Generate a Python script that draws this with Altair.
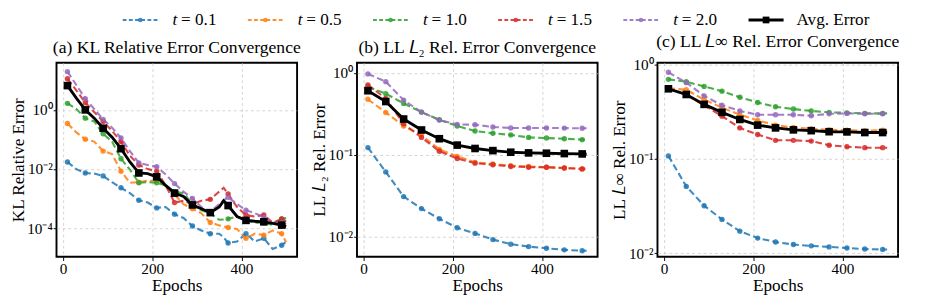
import altair as alt
import pandas as pd

SERIES = ["t = 0.1", "t = 0.5", "t = 1.0", "t = 1.5", "t = 2.0", "Avg. Error"]
COLORS = ["#1f77b4", "#ff7f0e", "#2ca02c", "#d62728", "#9467bd", "#000000"]
LEGEND_REST = ["= 0.1", "= 0.5", "= 1.0", "= 1.5", "= 2.0", "Avg. Error"]
MARKER_EPOCHS = [10, 50, 90, 130, 170, 210, 250, 290, 330, 370, 410, 450, 490]

# ---------- (a) KL relative error ----------
EPOCHS_KL = [10, 30, 50, 70, 90, 110, 130, 150, 170, 190, 210, 230, 250, 270,
             290, 310, 330, 350, 360, 370, 390, 410, 430, 450, 470, 490, 500]
KL_T01 = [0.0174, 0.01, 0.00741, 0.00708, 0.00589, 0.00363, 0.00234, 0.00155, 0.000891,
          0.000741, 0.00049, 0.000525, 0.000302, 0.000224, 0.00012, 8.5e-5, 6.6e-5, 6.6e-5,
          5.0e-5, 3.2e-5, 3.6e-5, 6.6e-5, 3.6e-5, 4.6e-5, 2.0e-5, 2.7e-5, 3.5e-5]
KL_T05 = [0.347, 0.174, 0.102, 0.0851, 0.0407, 0.0324, 0.00851, 0.00347, 0.00363,
          0.00407, 0.00407, 0.00282, 0.00138, 0.000661, 0.000457, 0.000324, 0.000158, 0.000126,
          0.000117, 0.000107, 9.5e-5, 4.6e-5, 6.6e-5, 5.9e-5, 8.5e-5, 6.6e-5, 3.4e-5]
KL_T10 = [1.66, 1.07, 0.525, 0.407, 0.155, 0.0851, 0.0224, 0.00955, 0.00347,
          0.00363, 0.00347, 0.00282, 0.00174, 0.00155, 0.000661, 0.000407, 0.000324, 0.000195,
          0.0002, 0.000209, 0.000251, 0.000186, 0.000155, 0.000155, 0.000129, 0.000209, 0.000224]
KL_T15 = [11.2, 4.57, 1.74, 0.851, 0.407, 0.195, 0.0851, 0.0282, 0.0138,
          0.01, 0.00851, 0.00282, 0.000741, 0.000851, 0.000661, 0.000851, 0.000955, 0.00174,
          0.00234, 0.00145, 0.000525, 0.000282, 0.000251, 0.000282, 0.000155, 0.000209, 0.000174]
KL_T20 = [19.5, 6.92, 2.4, 1.07, 0.479, 0.251, 0.112, 0.0407, 0.0162,
          0.0138, 0.012, 0.00661, 0.00324, 0.00174, 0.00102, 0.000525, 0.000363, 0.000661,
          0.000891, 0.00112, 0.000661, 0.000407, 0.000324, 0.00024, 0.000155, 0.000155, 0.000138]
KL_AVG = [6.61, 2.51, 1.0, 0.525, 0.24, 0.12, 0.049, 0.0174, 0.00741,
          0.00708, 0.0055, 0.00282, 0.00155, 0.0012, 0.000617, 0.000457, 0.000339, 0.000525,
          0.000851, 0.000589, 0.000251, 0.000186, 0.000174, 0.000166, 0.000148, 0.000129, 0.000115]

# ---------- (b) LL L2 and (c) LL Linf relative error ----------
EPOCHS_LL = [10, 50, 90, 130, 170, 210, 250, 290, 330, 370, 410, 450, 490, 500]
L2_T01 = [0.123, 0.0621, 0.031, 0.0221, 0.0166, 0.0129, 0.011, 0.00923, 0.00813, 0.00759, 0.00724, 0.00692, 0.00676, 0.00676]
L2_T05 = [0.479, 0.331, 0.226, 0.174, 0.117, 0.0962, 0.0813, 0.0776, 0.0741, 0.0724, 0.0708, 0.0692, 0.0676, 0.0676]
L2_T10 = [0.681, 0.562, 0.427, 0.334, 0.269, 0.226, 0.196, 0.184, 0.176, 0.164, 0.161, 0.158, 0.154, 0.154]
L2_T15 = [0.718, 0.49, 0.24, 0.164, 0.111, 0.0904, 0.0794, 0.0759, 0.0724, 0.0708, 0.0708, 0.0692, 0.0676, 0.0676]
L2_T20 = [0.98, 0.787, 0.468, 0.334, 0.267, 0.236, 0.234, 0.22, 0.214, 0.214, 0.214, 0.213, 0.212, 0.212]
L2_AVG = [0.61, 0.45, 0.275, 0.202, 0.158, 0.132, 0.12, 0.113, 0.108, 0.106, 0.105, 0.104, 0.103, 0.102]

LI_T01 = [0.108, 0.0513, 0.032, 0.0229, 0.0172, 0.0145, 0.0132, 0.0124, 0.012, 0.0117, 0.0114, 0.0111, 0.011, 0.011]
LI_T05 = [0.562, 0.543, 0.427, 0.351, 0.295, 0.257, 0.229, 0.216, 0.209, 0.204, 0.202, 0.2, 0.202, 0.202]
LI_T10 = [0.7, 0.661, 0.589, 0.525, 0.452, 0.398, 0.359, 0.339, 0.324, 0.313, 0.309, 0.305, 0.305, 0.305]
LI_T15 = [0.562, 0.479, 0.372, 0.285, 0.214, 0.182, 0.158, 0.158, 0.155, 0.14, 0.135, 0.132, 0.132, 0.132]
LI_T20 = [0.832, 0.646, 0.468, 0.372, 0.324, 0.295, 0.295, 0.295, 0.288, 0.302, 0.305, 0.302, 0.302, 0.302]
LI_AVG = [0.556, 0.484, 0.38, 0.313, 0.263, 0.229, 0.214, 0.204, 0.2, 0.195, 0.194, 0.191, 0.191, 0.191]

FONT = "Liberation Serif"
EXP_LABEL = ("'10' + (round(log(datum.value)/LN10) < 0 ? '\u207b' : '') + "
             "replace(replace(replace(replace(replace(toString(abs(round(log(datum.value)/LN10))),"
             "'0','\u2070'),'1','\u00b9'),'2','\u00b2'),'3','\u00b3'),'4','\u2074')")
PLOT_H = 204


def long_df(epochs, cols):
    rows = []
    for s, vals in zip(SERIES, cols):
        for e, v in zip(epochs, vals):
            rows.append({"epoch": e, "value": v, "series": s, "marker": e in MARKER_EPOCHS})
    return pd.DataFrame(rows)


def panel(epochs, cols, title, ytitle, ydomain, yticks, width):
    df = long_df(epochs, cols)
    base = alt.Chart(df)
    x = alt.X("epoch:Q",
              scale=alt.Scale(domain=[-14.5, 524.5], nice=False, zero=False),
              axis=alt.Axis(values=[0, 200, 400], title="Epochs", format="d",
                            titleFontWeight="normal", labelPadding=1, titlePadding=0))
    y = alt.Y("value:Q",
              scale=alt.Scale(type="log", domain=ydomain, nice=False),
              axis=alt.Axis(values=yticks, labelExpr=EXP_LABEL, title=ytitle,
                            titleFontWeight="normal", tickSize=3.5, labelPadding=1,
                            titlePadding=0))
    color = alt.Color("series:N", scale=alt.Scale(domain=SERIES, range=COLORS), legend=None)
    is_t = alt.datum.series != "Avg. Error"
    is_avg = alt.datum.series == "Avg. Error"
    t_lines = base.transform_filter(is_t).mark_line(
        strokeDash=[7, 3.5], strokeWidth=2.2, opacity=0.85).encode(x=x, y=y, color=color)
    t_pts = base.transform_filter(is_t).transform_filter(alt.datum.marker).mark_circle(
        size=32, opacity=0.85).encode(x=x, y=y, color=color)
    a_line = base.transform_filter(is_avg).mark_line(
        strokeWidth=3, color="black").encode(x=x, y=y)
    a_pts = base.transform_filter(is_avg).transform_filter(alt.datum.marker).mark_square(
        size=64, color="black", opacity=1).encode(x=x, y=y)
    return alt.layer(t_lines, t_pts, a_line, a_pts).properties(
        width=width, height=PLOT_H,
        title=alt.TitleParams(title, fontWeight="normal"))


pa = panel(EPOCHS_KL, [KL_T01, KL_T05, KL_T10, KL_T15, KL_T20, KL_AVG],
           "(a) KL Relative Error Convergence", "KL Relative Error",
           [1.1e-5, 39], [1e-4, 1e-2, 1], 253)
pb = panel(EPOCHS_LL, [L2_T01, L2_T05, L2_T10, L2_T15, L2_T20, L2_AVG],
           "(b) LL \U0001D43F\u2082 Rel. Error Convergence", "LL \U0001D43F\u2082 Rel. Error",
           [0.0057, 1.34], [1e-2, 1e-1, 1], 253)
pc = panel(EPOCHS_LL, [LI_T01, LI_T05, LI_T10, LI_T15, LI_T20, LI_AVG],
           "(c) LL \U0001D43F\u221e Rel. Error Convergence", "LL \U0001D43F\u221e Rel. Error",
           [0.0092, 1.05], [1e-2, 1e-1, 1], 253)

# ---------- legend row ----------
leg = pd.DataFrame({"slot": list(range(6)), "series": SERIES, "rest": LEGEND_REST,
                    "is_t": [True] * 5 + [False]})
lx = alt.Scale(domain=[-0.669, 6.366], nice=False, zero=False)
lcolor = alt.Color("series:N", scale=alt.Scale(domain=SERIES, range=COLORS), legend=None)
lbase = alt.Chart(leg).transform_calculate(x0="datum.slot - 0.14", x1="datum.slot + 0.14")
l_t_rule = lbase.transform_filter(alt.datum.is_t).mark_rule(strokeDash=[4, 2.5], strokeWidth=2, opacity=0.85).encode(
    x=alt.X("x0:Q", scale=lx, axis=None), x2="x1:Q", y=alt.value(9), color=lcolor)
l_t_pt = lbase.transform_filter(alt.datum.is_t).mark_circle(size=22, opacity=0.85).encode(
    x=alt.X("slot:Q", scale=lx, axis=None), y=alt.value(9), color=lcolor)
l_a_rule = lbase.transform_filter("!datum.is_t").mark_rule(strokeWidth=3, color="black").encode(
    x=alt.X("x0:Q", scale=lx, axis=None), x2="x1:Q", y=alt.value(9))
l_a_pt = lbase.transform_filter("!datum.is_t").mark_square(size=50, color="black", opacity=1).encode(
    x=alt.X("slot:Q", scale=lx, axis=None), y=alt.value(9))
l_t_it = lbase.transform_filter(alt.datum.is_t).mark_text(
    align="left", baseline="middle", dx=34, fontStyle="italic", fontSize=18, font=FONT).encode(
    x=alt.X("slot:Q", scale=lx, axis=None), y=alt.value(9), text=alt.value("t"))
l_t_txt = lbase.transform_filter(alt.datum.is_t).mark_text(
    align="left", baseline="middle", dx=43, fontSize=18, font=FONT).encode(
    x=alt.X("slot:Q", scale=lx, axis=None), y=alt.value(9), text="rest:N")
l_a_txt = lbase.transform_filter("!datum.is_t").mark_text(
    align="left", baseline="middle", dx=32, fontSize=18, font=FONT).encode(
    x=alt.X("slot:Q", scale=lx, axis=None), y=alt.value(9), text="rest:N")
legend_row = alt.layer(l_t_rule, l_t_pt, l_a_rule, l_a_pt, l_t_it, l_t_txt, l_a_txt).properties(
    width=926, height=18, view=alt.ViewBackground(stroke="transparent"))

panels = alt.hconcat(pa, pb, pc, spacing=63, bounds="flush")
chart = alt.vconcat(legend_row, panels, spacing=2).properties(
    padding={"left": 0, "top": -5, "right": 0, "bottom": 0}
).configure(font=FONT).configure_view(
    stroke="black", strokeWidth=2
).configure_axis(
    domain=False, grid=True, gridColor="#c8c8c8", gridDash=[3, 3], gridWidth=0.8,
    ticks=True, tickColor="black", tickSize=4, tickWidth=1,
    labelFont=FONT, labelFontSize=16, labelColor="black", labelPadding=2,
    titleFont=FONT, titleFontSize=18, titleFontWeight="normal", titleColor="black", titlePadding=2
).configure_title(
    font=FONT, fontSize=18.5, fontWeight="normal", color="black", offset=7, anchor="middle"
)

chart.save("out.html", embed_options={"renderer": "svg", "actions": False})
